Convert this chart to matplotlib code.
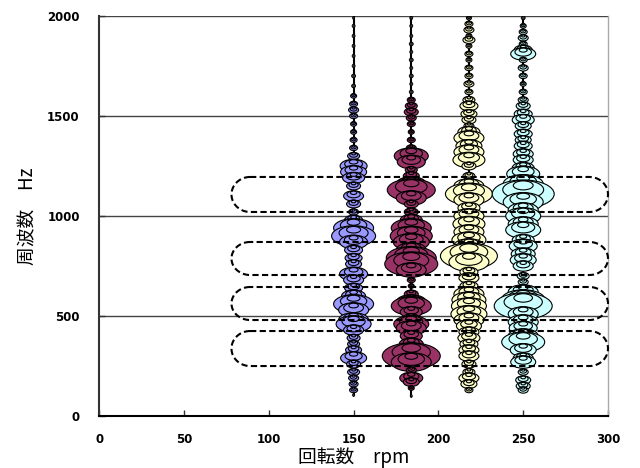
import matplotlib
matplotlib.use("Agg")
import matplotlib.pyplot as plt
import numpy as np
from matplotlib.patches import Ellipse

plt.rcParams['font.family'] = ['Noto Sans CJK JP', 'DejaVu Sans']

# columns (rpm) and their colours
rpm = [150, 184, 218, 250]
colors = ['#9999ff', '#993366', '#ffffcc', '#ccffff']

# peaks of each column: frequency (Hz) and amplitude (disc width)
freq_150 = [1990, 1950, 1900, 1850, 1800, 1750, 1700, 1650, 1600, 1560, 1530, 1500, 1460, 1420,
            1380, 1340, 1300, 1250, 1220, 1190, 1150, 1100, 1060, 1020, 980, 940, 900, 870, 830,
            790, 760, 710, 680, 640, 600, 560, 530, 480, 460, 430, 390, 360, 330, 290, 260, 220,
            190, 160, 130, 105]
amp_150 = [2, 3, 3, 3, 3, 3, 4, 4, 6, 8, 10, 8, 6, 6,
           7, 8, 12, 27, 26, 22, 14, 20, 14, 10, 18, 40, 44, 28, 18,
           17, 16, 28, 20, 18, 24, 40, 30, 30, 35, 20, 13, 12, 16, 26, 14, 12,
           10, 9, 8, 2]

freq_184 = [1990, 1950, 1900, 1860, 1820, 1780, 1740, 1700, 1660, 1620, 1580, 1550, 1520, 1490,
            1460, 1420, 1380, 1340, 1300, 1270, 1230, 1200, 1160, 1130, 1090, 1060, 1020, 980,
            940, 900, 870, 830, 790, 760, 730, 680, 650, 610, 570, 550, 520, 490, 460, 440, 400,
            360, 330, 300, 270, 230, 190, 170, 140, 100]
amp_184 = [3, 3, 3, 4, 3, 4, 3, 4, 3, 4, 8, 12, 14, 10,
           8, 6, 8, 10, 34, 28, 12, 16, 30, 48, 30, 14, 14, 22,
           40, 42, 36, 30, 50, 53, 30, 8, 6, 14, 30, 40, 22, 16, 35, 30, 22,
           24, 30, 58, 40, 10, 23, 16, 6, 2]

freq_218 = [1990, 1960, 1930, 1900, 1880, 1850, 1810, 1780, 1740, 1700, 1660, 1620, 1580, 1550,
            1510, 1480, 1450, 1420, 1390, 1350, 1320, 1280, 1250, 1200, 1150, 1110, 1080, 1040,
            1000, 960, 920, 880, 850, 820, 800, 770, 720, 690, 650, 610, 580, 550, 510, 480, 450,
            420, 390, 360, 330, 300, 260, 220, 190, 160, 130]
amp_218 = [5, 8, 10, 6, 12, 6, 8, 6, 8, 8, 10, 8, 12, 18,
           16, 14, 10, 22, 30, 26, 30, 32, 14, 12, 30, 47, 30, 22,
           30, 32, 30, 34, 30, 40, 57, 40, 18, 20, 18, 30, 34, 35, 36, 30, 25,
           20, 22, 18, 20, 20, 14, 12, 20, 16, 8]

freq_250 = [1990, 1950, 1920, 1890, 1860, 1830, 1810, 1780, 1740, 1700, 1660, 1620, 1580, 1550,
            1510, 1480, 1450, 1410, 1380, 1350, 1310, 1280, 1240, 1210, 1160, 1110, 1070, 1030,
            1000, 960, 930, 880, 850, 810, 780, 750, 700, 670, 620, 580, 550, 510, 470, 440, 400,
            370, 330, 290, 270, 220, 180, 150, 130]
amp_250 = [4, 6, 8, 10, 8, 18, 25, 8, 10, 8, 6, 8, 10, 14,
           18, 22, 16, 18, 16, 18, 20, 20, 22, 33, 40, 62, 40, 30,
           35, 30, 35, 22, 28, 24, 26, 20, 12, 10, 30, 44, 58, 30, 30, 28, 30,
           43, 26, 20, 25, 10, 15, 14, 10]

freqs = [freq_150, freq_184, freq_218, freq_250]
amps = [amp_150, amp_184, amp_218, amp_250]

# dashed frequency bands
band_lo = [250, 480, 705, 1020]
band_hi = [425, 645, 870, 1195]
band_x0, band_x1 = 78, 300

fig = plt.figure(figsize=(6.4, 4.68), dpi=100)
ax = fig.add_axes([0.155, 0.111, 0.795, 0.855])
ax.set_xlim(0, 300)
ax.set_ylim(0, 2000)

sx = 300 / 509.0   # rpm per pixel
sy = 2000 / 400.0  # Hz per pixel

for k in range(4):
    x = rpm[k]
    f = np.array(freqs[k])
    a = np.array(amps[k])
    ax.plot([x, x], [f.min(), 2000], color='black', lw=1.5, zorder=2)
    order = np.argsort(-f)
    for i in order:
        w = a[i] * sx
        h = (0.42 * a[i] + 2) * sy
        if a[i] < 5:
            ax.add_patch(Ellipse((x, f[i]), w, h, fc='#333333', ec='black', lw=0.6, zorder=3))
            continue
        for s in (1.0, 0.66, 0.32):
            ax.add_patch(Ellipse((x, f[i] + (1 - s) * h * 0.45), w * s, h * s,
                                 fc=colors[k], ec='black', lw=0.8, zorder=3))

# stadium-shaped dashed bands
cap = 11
t = np.linspace(np.pi / 2, 3 * np.pi / 2, 40)
for lo, hi in zip(band_lo, band_hi):
    yc = (lo + hi) / 2
    hh = (hi - lo) / 2
    xl = band_x0 + cap + cap * np.cos(t)
    yl = yc + hh * np.sin(t)
    xr = band_x1 - cap - cap * np.cos(t)
    yr = yc - hh * np.sin(t)
    xs = np.concatenate([xl, xr, xl[:1]])
    ys = np.concatenate([yl, yr, yl[:1]])
    ax.plot(xs, ys, color='black', lw=1.5, ls=(0, (3, 1.6)), zorder=4, clip_on=False)

ax.set_yticks([0, 500, 1000, 1500, 2000])
ax.set_xticks([0, 50, 100, 150, 200, 250, 300])
ax.yaxis.grid(True, color='#444444', lw=1.0)
ax.set_axisbelow(True)
ax.tick_params(direction='in', length=4, width=1, colors='#333333', labelcolor='black')
ax.tick_params(axis='x', pad=12)
ax.tick_params(axis='y', pad=14)
for lab in ax.get_xticklabels() + ax.get_yticklabels():
    lab.set_fontfamily('DejaVu Sans')
    lab.set_fontweight('bold')
    lab.set_fontsize(8.5)

ax.spines['top'].set_visible(False)
ax.spines['left'].set_color('#333333')
ax.spines['left'].set_linewidth(1.5)
ax.spines['bottom'].set_color('black')
ax.spines['bottom'].set_linewidth(1.5)
ax.spines['right'].set_color('#aaaaaa')
ax.spines['right'].set_linewidth(1.0)

ax.set_xlabel('回転数\u3000rpm', fontsize=13.5, labelpad=1)
ax.set_ylabel('周波数\u3000Hz', fontsize=13.5, labelpad=6)

fig.savefig('out.png', dpi=100)
